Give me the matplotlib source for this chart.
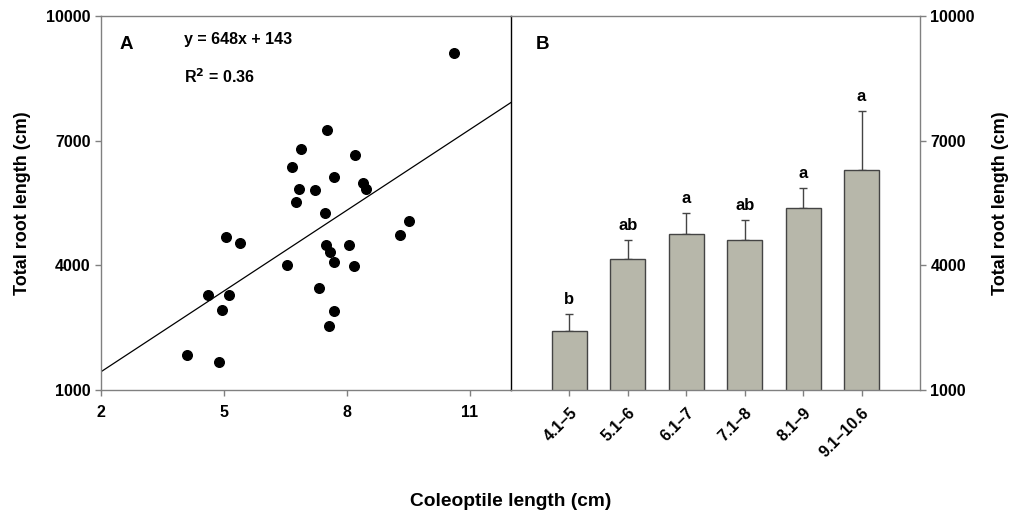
import matplotlib
matplotlib.use("Agg")
import matplotlib.pyplot as plt
import numpy as np

plt.rcParams['font.family'] = ['Liberation Sans', 'DejaVu Sans']
plt.rcParams['font.weight'] = 'bold'

# Panel A data
coleoptile = [10.62, 7.50, 6.89, 8.20, 6.66, 7.69, 8.40, 8.46, 6.84, 7.22,
              6.76, 7.46, 9.52, 9.30, 5.05, 5.40, 7.48, 8.06, 7.59, 7.68,
              6.53, 8.17, 7.32, 4.60, 5.11, 4.95, 7.68, 7.55, 4.09, 4.87]
root_length = [9102, 7257, 6792, 6656, 6367, 6135, 5974, 5838, 5846, 5822,
               5533, 5261, 5068, 4723, 4675, 4539, 4499, 4483, 4323, 4082,
               4002, 3994, 3465, 3280, 3280, 2927, 2895, 2550, 1837, 1684]
slope, intercept = 648, 143
fit_x = [2, 12]

# Panel B data
classes = ["4.1\u20135", "5.1\u20136", "6.1\u20137", "7.1\u20138", "8.1\u20139", "9.1\u201310.6"]
means = [2430, 4154, 4763, 4619, 5381, 6295]
errors = [401, 449, 490, 473, 489, 1412]
letters = ["b", "ab", "a", "ab", "a", "a"]

yticks = [1000, 4000, 7000, 10000]
spine_col = "#808080"

fig = plt.figure(figsize=(10.11, 5.15), dpi=100)
W, H = 1011, 515
axA = fig.add_axes([101 / W, 1 - 390 / H, 410 / W, 374 / H])
axB = fig.add_axes([511 / W, 1 - 390 / H, 409 / W, 374 / H])

for ax in (axA, axB):
    for s in ax.spines.values():
        s.set_color(spine_col)
        s.set_linewidth(1.0)
    ax.tick_params(colors=spine_col, labelcolor='black', length=4, width=1,
                   direction='out', labelsize=11.5)
    ax.tick_params(axis='x', pad=7)
    ax.set_ylim(1000, 10000)
    ax.set_yticks(yticks)

# Panel A
axA.scatter(coleoptile, root_length, s=48, color='black', zorder=3)
fx = np.array(fit_x, dtype=float)
axA.plot(fx, slope * fx + intercept, color='black', lw=0.9)
axA.set_xlim(2, 12)
axA.set_xticks([2, 5, 8, 11])
axA.spines['right'].set_visible(False)
axA.set_ylabel("Total root length (cm)", fontsize=13, fontweight='bold', labelpad=11)
axA.text(0.045, 0.925, "A", transform=axA.transAxes, fontsize=13.5, fontweight='bold',
         va='center')
axA.text(0.203, 0.938, "y = 648x + 143", transform=axA.transAxes, fontsize=11.5,
         fontweight='bold', va='center')
axA.text(0.203, 0.838, r"R$^{\mathbf{2}}$ = 0.36", transform=axA.transAxes, fontsize=11.5,
         fontweight='bold', va='center')

# Panel B
pos = np.arange(1, len(classes) + 1)
axB.bar(pos, means, width=0.6, color='#b7b7aa', edgecolor='#444444', linewidth=1.0,
        zorder=2)
axB.errorbar(pos, means, yerr=[np.zeros(len(errors)), errors], fmt='none',
             ecolor='#444444', elinewidth=1.0, capsize=3, capthick=1.0, zorder=1)
for p, m, e, lt in zip(pos, means, errors, letters):
    axB.text(p, m + e + 170, lt, ha='center', va='bottom', fontsize=12, fontweight='bold')
axB.set_xlim(0, 7)
axB.set_xticks(pos)
axB.set_xticklabels(classes, rotation=45, ha='right', rotation_mode='anchor', fontsize=11.5)
axB.yaxis.tick_right()
axB.yaxis.set_label_position('right')
axB.spines['left'].set_color('black')
axB.set_ylabel("Total root length (cm)", fontsize=13, fontweight='bold', labelpad=12)
axB.text(0.06, 0.925, "B", transform=axB.transAxes, fontsize=13.5, fontweight='bold',
         va='center')

fig.text(511 / W, 1 - 501 / H, "Coleoptile length (cm)", ha='center', va='center',
         fontsize=13.8, fontweight='bold')

fig.savefig("out.png", dpi=100)
